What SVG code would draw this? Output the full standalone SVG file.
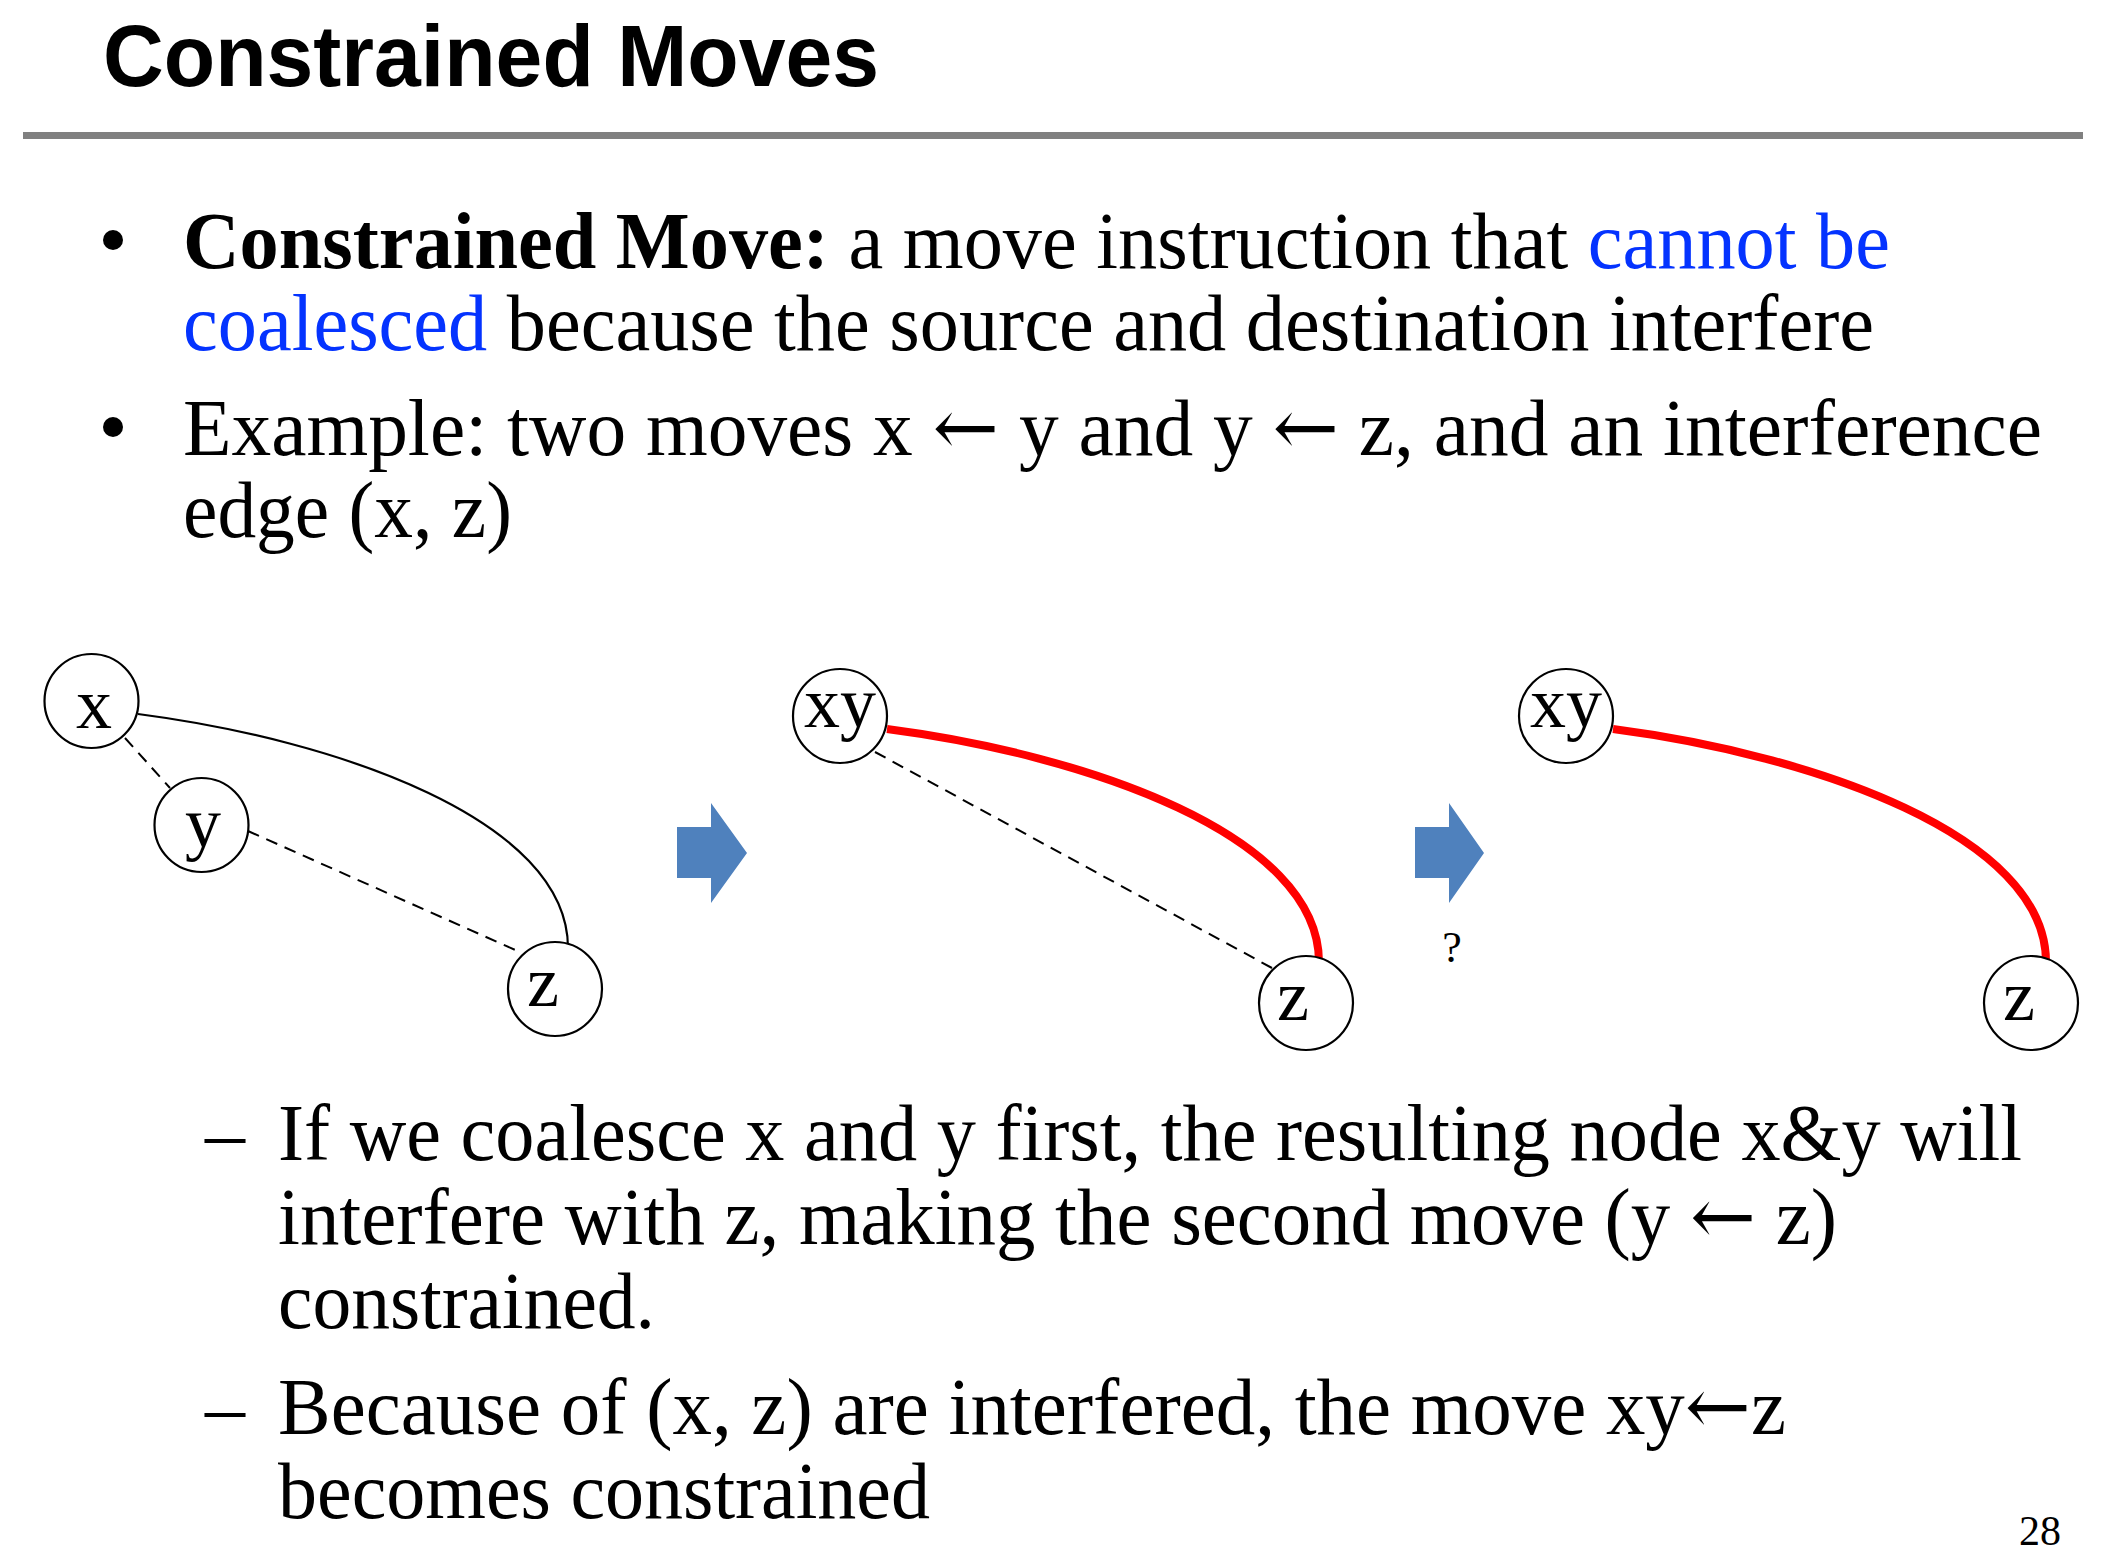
<svg xmlns="http://www.w3.org/2000/svg" width="2114" height="1552" viewBox="0 0 2114 1552">
<style>
.title{font-family:"Liberation Sans",Arial,sans-serif;font-weight:bold;font-size:88px;fill:#000}
.body{font-family:"Liberation Serif","Times New Roman",serif;font-size:80px;fill:#000}
.b{font-weight:bold}
.blue{fill:#0433FF}
.arr{font-family:"DejaVu Serif","DejaVu Sans",serif}
.lbl{font-family:"Liberation Serif","Times New Roman",serif;font-size:72px;fill:#000;text-anchor:middle}
.node{fill:#fff;stroke:#000;stroke-width:2.2}
.solid{fill:none;stroke:#000;stroke-width:2.2}
.dash{fill:none;stroke:#000;stroke-width:2;stroke-dasharray:12 8}
.red{fill:none;stroke:#FF0000;stroke-width:8}
.arrow{fill:#4F81BD}
</style>
<rect width="2114" height="1552" fill="#fff"/>
<text class="title" x="103" y="86" textLength="776" lengthAdjust="spacingAndGlyphs">Constrained Moves</text>
<rect x="23" y="132" width="2060" height="7" fill="#808080"/>

<g id="text">
<circle cx="113" cy="240" r="10" fill="#000"/>
<text class="body" x="183" y="268" textLength="1707" lengthAdjust="spacingAndGlyphs"><tspan class="b">Constrained Move:</tspan> a move instruction that <tspan class="blue">cannot be</tspan></text>
<text class="body" x="183" y="350" textLength="1691" lengthAdjust="spacingAndGlyphs"><tspan class="blue">coalesced</tspan> because the source and destination interfere</text>
<circle cx="113" cy="427" r="10" fill="#000"/>
<text class="body" x="183" y="455" textLength="1859" lengthAdjust="spacingAndGlyphs">Example: two moves x <tspan class="arr">←</tspan> y and y <tspan class="arr">←</tspan> z, and an interference</text>
<text class="body" x="183" y="537" textLength="329" lengthAdjust="spacingAndGlyphs">edge (x, z)</text>

<text class="body" x="205" y="1160">–</text>
<text class="body" x="278" y="1160" textLength="1744" lengthAdjust="spacingAndGlyphs">If we coalesce x and y first, the resulting node x&amp;y will</text>
<text class="body" x="278" y="1244" textLength="1559" lengthAdjust="spacingAndGlyphs">interfere with z, making the second move (y <tspan class="arr">←</tspan> z)</text>
<text class="body" x="278" y="1328" textLength="377" lengthAdjust="spacingAndGlyphs">constrained.</text>
<text class="body" x="205" y="1434">–</text>
<text class="body" x="278" y="1434" textLength="1508" lengthAdjust="spacingAndGlyphs">Because of (x, z) are interfered, the move xy<tspan class="arr">←</tspan>z</text>
<text class="body" x="278" y="1518" textLength="652" lengthAdjust="spacingAndGlyphs">becomes constrained</text>
<text class="body" x="2019" y="1545" style="font-size:42px">28</text>
</g>

<g id="connectors">
<path class="solid" d="M138,714 C338,740 568,820 568,948"/>
<line class="dash" x1="125" y1="738" x2="170" y2="788"/>
<line class="dash" x1="248" y1="831" x2="522" y2="953"/>
<path class="red" d="M887,729 C1087,755 1319,835 1319,962"/>
<line class="dash" x1="875" y1="752" x2="1272" y2="968"/>
<path class="red" d="M1613,729 C1813,755 2046,835 2046,962"/>
</g>

<g id="node-x"><circle class="node" cx="91.5" cy="701" r="47"/><text class="lbl" x="94" y="728">x</text></g>
<g id="node-y"><circle class="node" cx="201.5" cy="825" r="47"/><text class="lbl" x="203" y="847">y</text></g>
<g id="node-z1"><circle class="node" cx="555" cy="989" r="47"/><text class="lbl" x="543" y="1006">z</text></g>

<g id="arrow1"><path class="arrow" d="M677,827 H711 V803 L747,853 L711,903 V878 H677 Z"/></g>

<g id="node-xy2"><circle class="node" cx="840" cy="716" r="47"/><text class="lbl" x="840" y="727">xy</text></g>
<g id="node-z2"><circle class="node" cx="1306" cy="1003" r="47"/><text class="lbl" x="1293" y="1020">z</text></g>

<g id="arrow2"><path class="arrow" d="M1415,827 H1449 V803 L1484,853 L1449,903 V878 H1415 Z"/></g>
<text class="lbl" x="1452" y="962" style="font-size:44px">?</text>

<g id="node-xy3"><circle class="node" cx="1566" cy="716" r="47"/><text class="lbl" x="1566" y="727">xy</text></g>
<g id="node-z3"><circle class="node" cx="2031" cy="1003" r="47"/><text class="lbl" x="2019" y="1020">z</text></g>
</svg>
